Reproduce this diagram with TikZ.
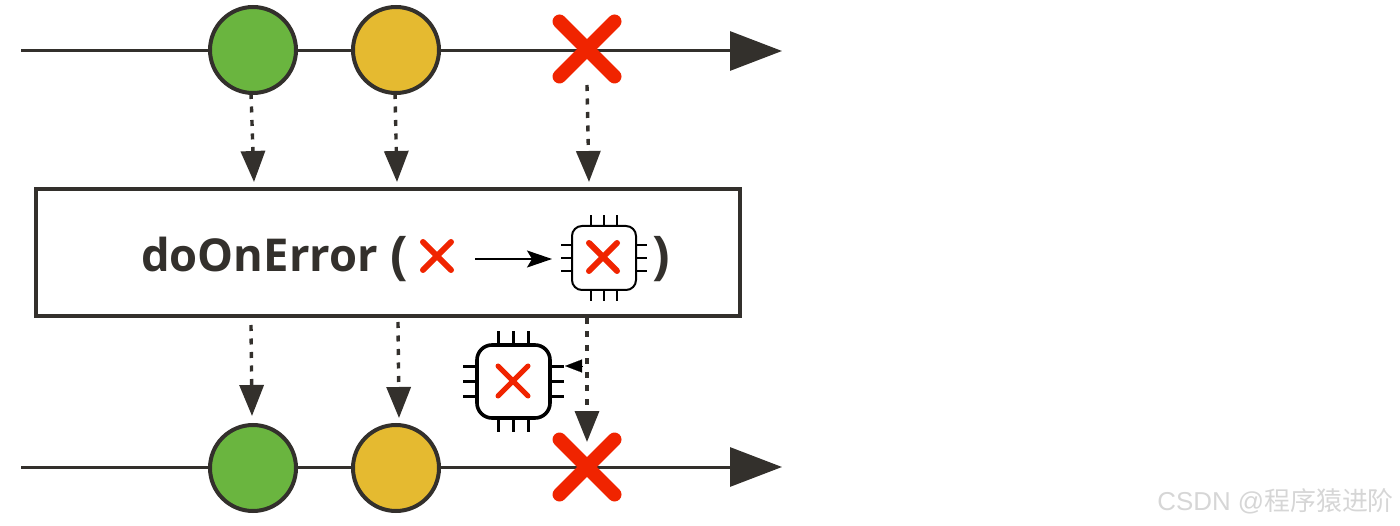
\documentclass[tikz,border=0pt]{standalone}
\usepackage{fontspec}
\setmainfont{Liberation Sans}
\newfontfamily\labelfont{Open Sans}
\newfontfamily\cjkfont{Noto Sans CJK SC}
\usetikzlibrary{arrows.meta,shapes.misc,calc}
\definecolor{ink}{HTML}{33302C}
\definecolor{marbleg}{HTML}{6AB53F}
\definecolor{marbley}{HTML}{E5BA30}
\definecolor{errred}{HTML}{F02400}
\tikzset{
  axis/.style={draw=ink,line width=3pt,-{Triangle[length=52pt,width=39pt]}},
  marble/.style={circle,draw=ink,line width=4pt,minimum size=86pt,inner sep=0pt,outer sep=0pt},
  bigx/.style={cross out,draw=errred,line width=14pt,line cap=round,minimum size=55pt,inner sep=0pt,outer sep=0pt},
  smallx/.style={cross out,draw=errred,line cap=round,inner sep=0pt,outer sep=0pt},
  flow/.style={draw=ink,line width=3.4pt,dash pattern=on 6pt off 7.5pt,-{Triangle[length=31pt,width=24pt]}},
  opbox/.style={rectangle,draw=ink,line width=3.2pt,minimum width=704pt,minimum height=127pt,inner sep=0pt},
  optext/.style={text=ink,font=\labelfont\bfseries\fontsize{45.3}{45}\selectfont,inner sep=0pt,anchor=base west},
  parentext/.style={text=ink,font=\labelfont\bfseries\fontsize{52}{52}\selectfont,inner sep=0pt,anchor=base west},
}
% #1 name, #2 centre, #3 half size, #4 line width, #5 pin length, #6 pin pitch, #7 corner
\newcommand{\chipicon}[7]{%
  \node[rectangle,rounded corners=#7,draw=black,line width=#4,fill=white,minimum size=2*#3,inner sep=0pt,outer sep=0pt] (#1) at (#2) {};
  \foreach \d in {-1,0,1}{
    \draw[black,line width=#4] ($(#1.north)+(\d*#6,0)$) -- ++(0,#5);
    \draw[black,line width=#4] ($(#1.south)+(\d*#6,0)$) -- ++(0,-#5);
    \draw[black,line width=#4] ($(#1.west)+(0,\d*#6)$) -- ++(-#5,0);
    \draw[black,line width=#4] ($(#1.east)+(0,\d*#6)$) -- ++(#5,0);
  }%
}
\begin{document}
\begin{tikzpicture}[x=1pt,y=-1pt]
\useasboundingbox (0,0) rectangle (1400,526);
\coordinate (ts) at (21,51);  \coordinate (te) at (782,51);
\coordinate (bs) at (21,467); \coordinate (be) at (782,467);
\draw[axis] (ts) -- (te);
\draw[axis] (bs) -- (be);
\node[marble,fill=marbleg] (g1) at (253,50) {};
\node[marble,fill=marbley] (y1) at (396,50) {};
\node[marble,fill=marbleg] (g2) at (253,468) {};
\node[marble,fill=marbley] (y2) at (396,468) {};
\node[bigx] (x1) at (587,49) {};
\node[bigx] (x2) at (587,467) {};
\node[opbox] (op) at (388,252.5) {};
\coordinate (t1) at (254,182); \coordinate (t2) at (397,182); \coordinate (t3) at (589,182);
\coordinate (s4) at (251,325); \coordinate (t4) at (252,416);
\coordinate (s5) at (398,322); \coordinate (t5) at (399,418);
\coordinate (s6) at (587,318); \coordinate (t6) at (587,442);
\coordinate (s3) at (587,85);
\draw[flow] ([xshift=-2pt]g1.south) -- (t1);
\draw[flow] ([xshift=-1pt]y1.south) -- (t2);
\draw[flow] (s3) -- (t3);
\draw[flow] (s4) -- (t4);
\draw[flow] (s5) -- (t5);
\draw[flow] (s6) -- (t6);
\node[optext] (lbl) at (141,272) {doOnError};
\node[parentext] (lp) at (390,274) {(};
\node[parentext] (rp) at (652,274) {)};
\node[smallx,line width=6pt,minimum size=28pt] (ex) at (437,256) {};
\chipicon{c1}{604,258}{32pt}{2pt}{11pt}{13.3pt}{10pt}
\node[smallx,line width=6pt,minimum size=28pt] (cx1) at (603,257) {};
\coordinate (as) at (475,259); \coordinate (ae) at (552,259);
\draw[black,line width=1.6pt,-{Stealth[length=25pt,width=17pt,inset=5pt]}] (as) -- (ae);
\chipicon{c2}{513.5,381.5}{36.5pt}{3.6pt}{14pt}{15pt}{15pt}
\node[smallx,line width=5pt,minimum size=30pt] (cx2) at (513,381) {};
\coordinate (ps) at (582,366); \coordinate (pe) at (565,366);
\draw[black,line width=0.1pt,-{Triangle[length=17pt,width=13pt]}] (ps) -- (pe);
\node[text=black!16,font=\fontsize{25.9}{26}\selectfont,anchor=base east,inner sep=0pt] (wm) at (1394,510) {CSDN @{\cjkfont 程序猿进阶}};
\end{tikzpicture}
\end{document}
